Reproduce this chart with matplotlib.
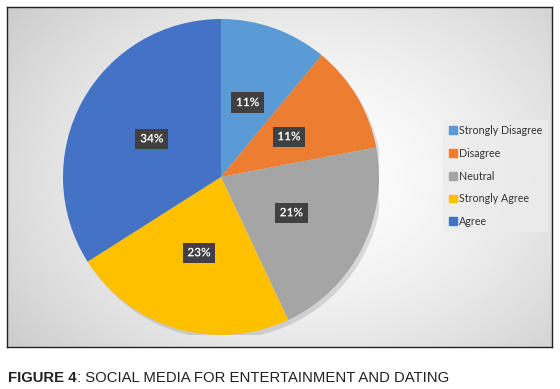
import numpy as np
import matplotlib
matplotlib.use("Agg")
import matplotlib.pyplot as plt
import matplotlib.patches as mpatches
import matplotlib.patheffects as pe

# data
labels = ["Strongly Disagree", "Disagree", "Neutral", "Strongly Agree", "Agree"]
values = [11, 11, 21, 23, 34]
colors = ["#5B9BD5", "#ED7D31", "#A5A5A5", "#FFC000", "#4472C4"]
caption_bold = "FIGURE 4"
caption_rest = ": SOCIAL MEDIA FOR ENTERTAINMENT AND DATING"

W, H = 560, 389
fig = plt.figure(figsize=(W / 100, H / 100), dpi=100)

# framed chart area with a soft radial gradient
box = fig.add_axes([7 / W, (H - 347) / H, 545 / W, 340 / H])
yy, xx = np.mgrid[0:1:200j, 0:1:320j]
r = np.sqrt(((xx - 0.55) / 0.8) ** 2 + ((yy - 0.5) / 0.95) ** 2)
shade = 1.0 - 0.25 * np.clip(r, 0, 1) ** 1.5
box.imshow(shade, cmap="gray", vmin=0, vmax=1, extent=[0, 1, 0, 1],
           aspect="auto", interpolation="bilinear")
box.set_xticks([])
box.set_yticks([])
for s in box.spines.values():
    s.set_linewidth(1.0)
    s.set_color("#222222")

# pie
ax = fig.add_axes([63 / W, 54 / H, 316 / W, 316 / H])
shadow = mpatches.Circle((0.02, -0.025), 1.0, facecolor="black", alpha=0.12,
                         edgecolor="none")
ax.add_patch(shadow)
wedges, texts = ax.pie(values, colors=colors, startangle=90, counterclock=False,
                       radius=1.0, labels=[f"{v}%" for v in values],
                       labeldistance=0.5,
                       textprops=dict(color="white", fontsize=8.5, fontweight="bold",
                                      family="Lato", ha="center", va="center"))
for t in texts:
    t.set_bbox(dict(boxstyle="square,pad=0.4", facecolor="#404040", edgecolor="none"))
    t.set_path_effects([pe.Normal()])
ax.set_xlim(-1, 1)
ax.set_ylim(-1, 1)
ax.set_aspect("equal")
ax.axis("off")

# legend
handles = [mpatches.Patch(color=c, label=l) for c, l in zip(colors, labels)]
leg = fig.legend(handles=handles, loc="center left",
                 bbox_to_anchor=(438 / W, (H - 176) / H),
                 prop=dict(family="Lato", size=7.7),
                 frameon=True, fancybox=False, handlelength=0.75, handleheight=0.75,
                 handletextpad=0.25, labelspacing=1.1, borderpad=0.5)
leg.get_frame().set_facecolor("#ececec")
leg.get_frame().set_edgecolor("none")
for t in leg.get_texts():
    t.set_color("#333333")

# caption
t1 = fig.text(8 / W, (H - 382) / H, caption_bold, fontsize=10.7, fontweight="bold",
              family="Liberation Sans", color="#222222", ha="left", va="baseline")
ax.annotate(caption_rest, xy=(1, 0), xycoords=t1, fontsize=10.7,
            family="Liberation Sans", color="#222222", ha="left", va="bottom")

fig.savefig("out.png", dpi=100)
